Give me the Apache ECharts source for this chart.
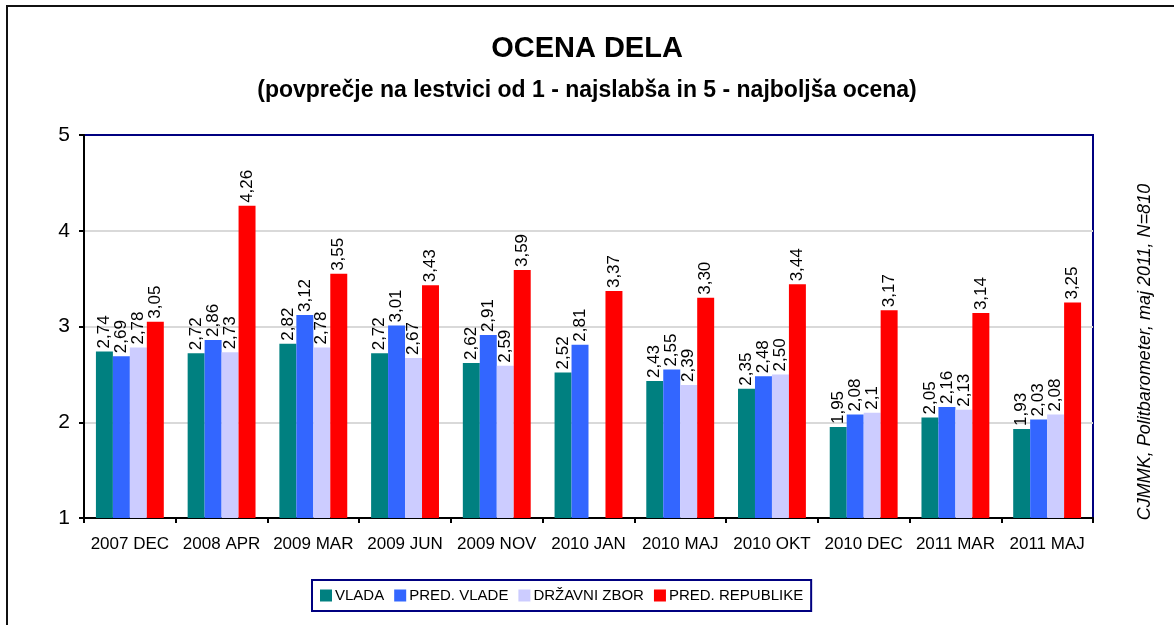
<!DOCTYPE html>
<html>
<head>
<meta charset="utf-8">
<script src="https://cdn.jsdelivr.net/npm/echarts@6/dist/echarts.min.js"></script>
<style>
  html, body { margin: 0; padding: 0; background: #fff; }
  #chart { width: 1174px; height: 625px; }
</style>
</head>
<body>
<div id="chart"></div>
<script>
  // podatki
  const categories = ['2007 DEC', '2008 APR', '2009 MAR', '2009 JUN', '2009 NOV', '2010 JAN',
    '2010 MAJ', '2010 OKT', '2010 DEC', '2011 MAR', '2011 MAJ'];
  const vlada = [2.74, 2.72, 2.82, 2.72, 2.62, 2.52, 2.43, 2.35, 1.95, 2.05, 1.93];
  const predVlade = [2.69, 2.86, 3.12, 3.01, 2.91, 2.81, 2.55, 2.48, 2.08, 2.16, 2.03];
  const drzavniZbor = [2.78, 2.73, 2.78, 2.67, 2.59, null, 2.39, 2.50, 2.1, 2.13, 2.08];
  const predRepublike = [3.05, 4.26, 3.55, 3.43, 3.59, 3.37, 3.30, 3.44, 3.17, 3.14, 3.25];
  const seriesNames = ['VLADA', 'PRED. VLADE', 'DRŽAVNI ZBOR', 'PRED. REPUBLIKE'];
  // v originalu je ena oznaka z eno decimalko
  const oneDecimalLabels = [[2, 8]];

  const colors = ['#008080', '#3366FF', '#CCCCFF', '#FF0000'];
  const font = 'Liberation Sans, Arial, sans-serif';

  function fmt(p) {
    let short = oneDecimalLabels.some(d => d[0] === p.seriesIndex && d[1] === p.dataIndex);
    return p.value.toFixed(short ? 1 : 2).replace('.', ',');
  }

  function bar(name, data, i) {
    return {
      name: name,
      type: 'bar',
      data: data,
      barGap: '0%',
      barCategoryGap: '26%',
      itemStyle: {color: colors[i]},
      label: {
        show: true,
        position: 'top',
        rotate: 90,
        align: 'left',
        verticalAlign: 'middle',
        distance: 3,
        color: '#000',
        fontFamily: font,
        fontSize: 17,
        formatter: fmt
      }
    };
  }

  let chart = echarts.init(document.getElementById('chart'));
  chart.setOption({
    animation: false,
    color: colors,
    title: [
      {
        text: 'OCENA DELA',
        left: 'center',
        top: 29,
        textStyle: {fontFamily: font, fontSize: 29, fontWeight: 'bold', color: '#000'}
      },
      {
        text: '(povprečje na lestvici od 1 - najslabša in 5 - najboljša ocena)',
        left: 'center',
        top: 74,
        textStyle: {fontFamily: font, fontSize: 23, fontWeight: 'bold', color: '#000'}
      }
    ],
    legend: {
      left: 312,
      top: 580,
      padding: [8, 8],
      borderColor: '#000080',
      borderWidth: 2,
      itemWidth: 12,
      itemHeight: 12,
      itemGap: 10,
      icon: 'rect',
      textStyle: {fontFamily: font, fontSize: 15, color: '#000', padding: [0, 0, 0, -2]},
      data: seriesNames
    },
    grid: {
      left: 84,
      right: 81,
      top: 135,
      bottom: 107,
      show: true,
      borderColor: '#000080',
      borderWidth: 2
    },
    xAxis: {
      type: 'category',
      data: categories,
      axisLine: {lineStyle: {color: '#000', width: 2}},
      axisTick: {show: true, length: 5, lineStyle: {color: '#000', width: 2}},
      axisLabel: {interval: 0, fontFamily: font, fontSize: 17, color: '#000', margin: 18}
    },
    yAxis: {
      type: 'value',
      min: 1,
      max: 5,
      interval: 1,
      axisLine: {show: true, lineStyle: {color: '#000', width: 2}},
      axisTick: {show: true, length: 5, lineStyle: {color: '#000', width: 2}},
      axisLabel: {fontFamily: font, fontSize: 21, color: '#000', margin: 14},
      splitLine: {showMaxLine: false, showMinLine: false, lineStyle: {color: '#d9d9d9', width: 2}}
    },
    graphic: [
      {
        type: 'rect',
        shape: {x: 7, y: 6, width: 1300, height: 800},
        style: {fill: 'none', stroke: '#111', lineWidth: 2},
        silent: true
      },
      {
        type: 'text',
        x: 1145,
        y: 352,
        rotation: Math.PI / 2,
        style: {
          text: 'CJMMK, Politbarometer, maj 2011, N=810',
          fontFamily: font,
          fontSize: 18,
          fontStyle: 'italic',
          fill: '#000',
          align: 'center',
          verticalAlign: 'middle'
        }
      }
    ],
    series: [
      bar(seriesNames[0], vlada, 0),
      bar(seriesNames[1], predVlade, 1),
      bar(seriesNames[2], drzavniZbor, 2),
      bar(seriesNames[3], predRepublike, 3)
    ]
  });
</script>
</body>
</html>
